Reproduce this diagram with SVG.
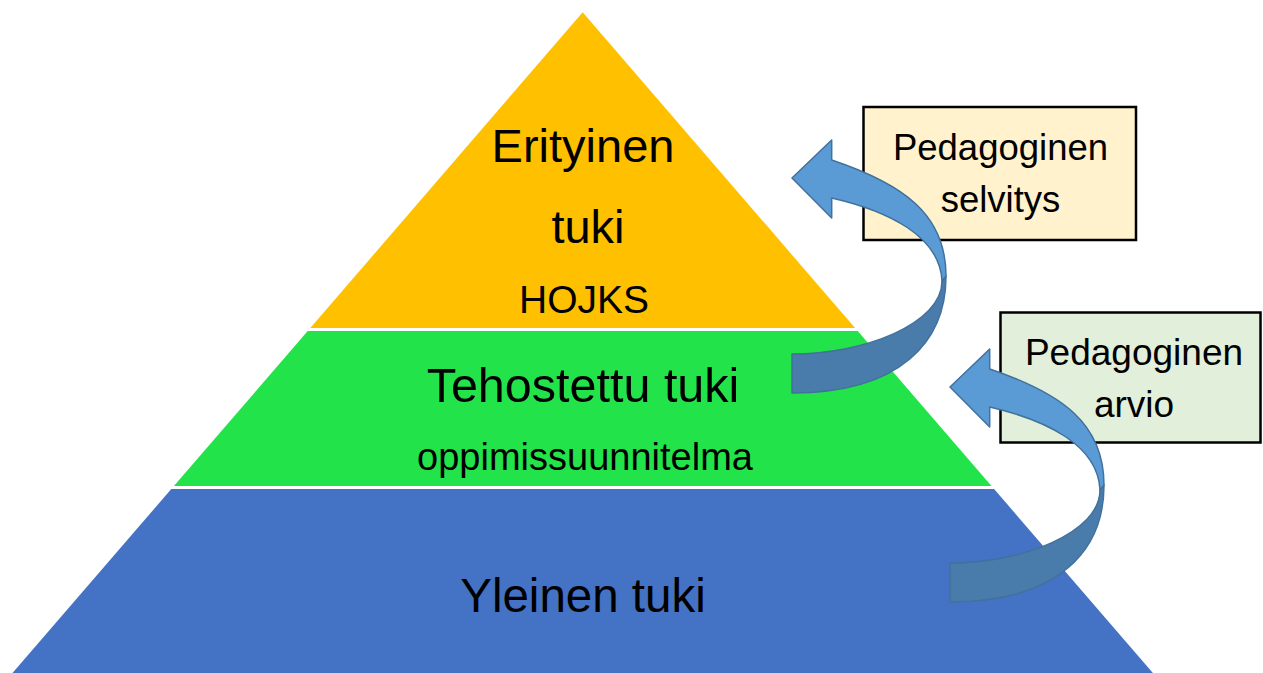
<svg xmlns="http://www.w3.org/2000/svg" xmlns:xlink="http://www.w3.org/1999/xlink" width="1263" height="673" viewBox="0 0 1263 673">
<style>
text{font-family:"Liberation Sans",Arial,sans-serif;fill:#000;text-anchor:middle}
.box{stroke:#000;stroke-width:2.5}
.light{fill:#5B9BD5;stroke:#41719C;stroke-width:1.5;stroke-linejoin:round}
.dark{fill:#497CAA;stroke:#41719C;stroke-width:1.5;stroke-linejoin:round}
</style>
<defs>
<g id="curved">
<path class="dark" d="M 946 276 C 946 342 900 393 792 393 L 792 354 C 864 354 942 324 942 281 Z"/>
<path class="light" d="M 792 178 L 831.7 140 L 831.7 160 C 903 184 946 214 946 276 L 942 281 C 940 236 888 211 831.7 198 L 831.7 218 Z"/>
</g>
</defs>
<rect width="1263" height="673" fill="#fff"/>
<g id="level-top">
<polygon points="582.7,12.3 855.1,328 310.3,328" fill="#FFC000"/>
<text x="583" y="161.5" font-size="47">Erityinen</text>
<text x="588" y="243" font-size="47">tuki</text>
<text x="584" y="313" font-size="39">HOJKS</text>
</g>
<g id="level-middle">
<polygon points="307.7,331 857.7,331 991.5,486 173.9,486" fill="#22E34A"/>
<text x="583" y="401.5" font-size="48.5">Tehostettu tuki</text>
<text x="585" y="470" font-size="38">oppimissuunnitelma</text>
</g>
<g id="level-bottom">
<polygon points="171.3,489 994.1,489 1152.9,673 12.5,673" fill="#4472C4"/>
<text x="583" y="611.5" font-size="47.5">Yleinen tuki</text>
</g>
<g id="box-selvitys">
<rect class="box" x="863.5" y="107" width="272.5" height="133" fill="#FFF2CC"/>
<text x="1000.5" y="160" font-size="36.5">Pedagoginen</text>
<text x="1000.5" y="212" font-size="36.5">selvitys</text>
</g>
<g id="box-arvio">
<rect class="box" x="1000.5" y="312.5" width="260" height="130" fill="#E2EFDA"/>
<text x="1134" y="365" font-size="37">Pedagoginen</text>
<text x="1134" y="417" font-size="37">arvio</text>
</g>
<g id="connectors">
<use xlink:href="#curved"/>
<use xlink:href="#curved" transform="translate(158,209)"/>
</g>
</svg>
